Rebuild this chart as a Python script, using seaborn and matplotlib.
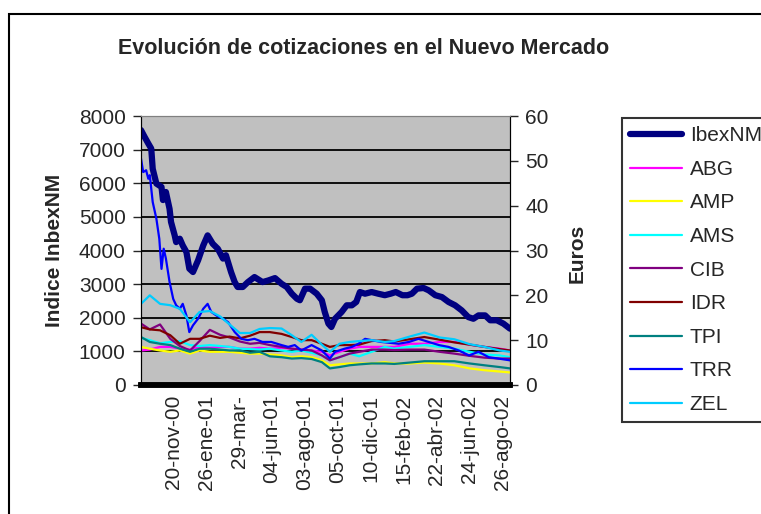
import matplotlib
matplotlib.use("Agg")
import matplotlib.pyplot as plt
import matplotlib.patches as mpatches
import seaborn as sns

# trading-day index of each reading, and the values
ibex_day = [0, 5, 10, 14, 16, 21, 28, 30, 34, 39, 41, 46, 48, 53, 57, 62, 66, 71, 78, 85,
            91, 98, 105, 112, 116, 123, 128, 132, 139, 146, 155, 166, 174, 183, 192, 199,
            206, 213, 217, 224, 231, 240, 247, 251, 256, 260, 265, 274, 281, 288, 294, 299,
            306, 315, 324, 333, 341, 348, 357, 364, 370, 377, 386, 393, 402, 411, 420, 429,
            438, 447, 454, 461, 470, 477, 486, 495, 504]
ibex_val = [7580, 7375, 7180, 7030, 6430, 5990, 5890, 5500, 5740, 5240, 4850, 4450, 4250,
            4350, 4150, 3955, 3460, 3360, 3710, 4150, 4450, 4200, 4050, 3760, 3860, 3360,
            3060, 2915, 2915, 3060, 3210, 3060, 3110, 3180, 3010, 2915, 2715, 2565, 2520,
            2865, 2865, 2715, 2520, 2170, 1825, 1725, 1970, 2170, 2370, 2370, 2470, 2765,
            2715, 2765, 2715, 2670, 2715, 2765, 2670, 2670, 2715, 2865, 2885, 2815, 2670,
            2615, 2470, 2370, 2220, 2020, 1970, 2070, 2070, 1925, 1925, 1825, 1675]

trr_day = [0, 3, 7, 10, 12, 14, 16, 21, 25, 28, 31, 34, 39, 44, 48, 53, 57, 62, 66, 71, 78,
           85, 91, 96, 103, 112, 119, 128, 137, 146, 155, 166, 178, 192, 201, 210, 219, 233,
           247, 258, 265, 278, 288, 297, 306, 315, 328, 352, 366, 379, 393, 407, 420, 434,
           448, 461, 475, 488, 504]
trr_val = [50.5, 47.5, 47.9, 46.0, 46.8, 43.8, 40.8, 37.1, 32.6, 25.9, 30.4, 28.2, 23.0,
           19.2, 17.8, 17.0, 18.1, 15.5, 11.8, 13.3, 14.8, 17.0, 18.1, 16.3, 15.5, 14.8,
           14.0, 11.8, 10.3, 10.0, 10.3, 9.6, 9.6, 8.9, 8.5, 8.9, 7.7, 8.9, 7.7, 5.9, 7.4,
           8.1, 8.5, 9.2, 10.3, 10.0, 9.6, 9.2, 9.6, 10.3, 9.6, 8.9, 8.5, 7.7, 6.6, 7.4,
           6.2, 5.9, 5.5]

# shared reading positions for the other stocks
day = [0, 12, 26, 40, 53, 67, 80, 94, 108, 121, 135, 149, 162, 176, 192, 206, 219, 233,
       247, 258, 271, 285, 298, 315, 333, 346, 367, 387, 408, 428, 449, 469, 490, 504]
abg = [7.7, 7.9, 8.5, 8.5, 8.1, 7.9, 8.5, 8.3, 8.5, 8.5, 8.1, 8.1, 8.3, 8.1, 8.3, 8.1, 7.9,
       7.7, 7.4, 6.6, 7.4, 8.1, 8.5, 8.5, 8.5, 8.5, 9.2, 9.2, 9.6, 9.6, 9.0, 8.5, 8.1, 7.7]
amp = [8.5, 8.1, 7.7, 7.4, 7.7, 7.0, 7.7, 7.4, 7.4, 7.4, 7.2, 7.0, 7.0, 6.8, 6.6, 6.2, 6.4,
       6.2, 5.5, 4.4, 4.6, 4.8, 4.8, 4.8, 5.1, 4.8, 4.8, 5.0, 4.8, 4.4, 3.7, 3.3, 3.0, 2.8]
ams = [10.5, 10.0, 9.3, 9.6, 9.8, 8.9, 8.7, 8.9, 8.7, 8.5, 8.1, 8.0, 7.9, 8.1, 7.7, 7.4,
       7.7, 7.2, 6.6, 5.5, 6.2, 7.0, 6.4, 7.4, 8.5, 8.1, 8.5, 8.9, 8.5, 8.1, 7.4, 6.8, 6.6, 6.2]
cib = [13.7, 12.4, 13.5, 10.3, 8.7, 7.7, 9.8, 12.3, 11.2, 10.6, 9.7, 9.2, 9.4, 8.9, 8.5,
       8.1, 7.9, 7.7, 6.6, 5.5, 6.2, 7.0, 7.4, 7.9, 7.9, 7.8, 7.9, 7.9, 7.4, 7.0, 6.5, 6.1,
       5.9, 5.9]
idr = [12.9, 12.4, 12.2, 11.1, 9.2, 10.3, 10.3, 11.0, 10.5, 10.8, 10.4, 11.0, 11.8, 11.8,
       11.4, 10.7, 10.0, 10.0, 9.2, 8.5, 8.9, 8.9, 9.0, 9.8, 10.0, 9.7, 10.2, 10.7, 10.1, 9.5,
       9.0, 8.5, 8.0, 7.7]
tpi = [10.7, 9.6, 9.2, 8.9, 8.1, 7.4, 8.1, 8.1, 7.9, 7.7, 7.7, 7.2, 7.4, 6.4, 6.2, 5.9,
       6.0, 5.8, 5.1, 3.7, 4.0, 4.4, 4.6, 4.8, 4.8, 4.7, 5.0, 5.3, 5.3, 5.3, 4.8, 4.4, 4.0, 3.7]
zel = [18.1, 20.0, 18.1, 17.8, 17.0, 14.0, 16.3, 16.5, 15.3, 13.5, 11.6, 11.6, 12.5, 12.7,
       12.6, 11.1, 9.6, 11.2, 9.0, 7.4, 9.2, 9.6, 9.8, 10.0, 9.6, 9.8, 10.8, 11.7, 10.6,
       10.2, 9.1, 8.5, 7.7, 7.4]

tick_days = [44, 89, 134, 179, 224, 269, 314, 359, 404, 449, 494]
tick_labels = ["20-nov-00", "26-ene-01", "29-mar-", "04-jun-01", "03-ago-01", "05-oct-01",
               "10-dic-01", "15-feb-02", "22-abr-02", "24-jun-02", "26-ago-02"]

stocks = [("ABG", abg, "#FF00FF"), ("AMP", amp, "#FFFF00"), ("AMS", ams, "#00FFFF"),
          ("CIB", cib, "#800080"), ("IDR", idr, "#800000"), ("TPI", tpi, "#008080"),
          ("TRR", trr_val, "#0000FF"), ("ZEL", zel, "#00CCFF")]

sns.set_style("white")
plt.rcParams["font.family"] = ["Liberation Sans", "DejaVu Sans"]
fs = 15

fig = plt.figure(figsize=(7.61, 5.14), dpi=100)
ax = fig.add_axes([141 / 761, 129 / 514, 369 / 761, 269 / 514])
ax.set_facecolor("#C0C0C0")

sns.lineplot(x=ibex_day, y=ibex_val, ax=ax, color="#000080", linewidth=4.5,
             solid_capstyle="round", legend=False)
ax.set_ylim(0, 8000)
ax.set_yticks(range(0, 8001, 1000))
ax.set_xlim(0, 504)
ax.yaxis.grid(True, color="black", linewidth=1.3)
ax.set_axisbelow(True)

ax2 = ax.twinx()
for name, vals, col in stocks:
    xs = trr_day if name == "TRR" else day
    sns.lineplot(x=xs, y=vals, ax=ax2, color=col, linewidth=1.6, legend=False)
ax2.set_ylim(0, 60)
ax2.set_yticks(range(0, 61, 10))
ax2.grid(False)

ax.set_xticks(tick_days)
ax.set_xticklabels(tick_labels, rotation=90, fontsize=fs)
ax.tick_params(axis="x", length=0, pad=7)
ax.tick_params(axis="y", direction="out", length=6, width=1, labelsize=fs, pad=5, left=True)
ax2.tick_params(axis="y", direction="out", length=6, width=1, labelsize=fs, pad=5, right=True)

for a in (ax, ax2):
    a.spines["top"].set_color("#808080")
    a.spines["left"].set_color("black")
    a.spines["right"].set_color("black")
    a.spines["bottom"].set_color("black")
    a.spines["bottom"].set_linewidth(4)

ax.set_ylabel("")
ax2.set_ylabel("")
fig.text(55 / 761, 1 - 250 / 514, "Indice InbexNM", rotation=90, fontsize=fs,
         fontweight="bold", ha="center", va="center")
fig.text(577 / 761, 1 - 253 / 514, "Euros", rotation=90, fontsize=fs,
         fontweight="bold", ha="center", va="center")
fig.text(364 / 761, 1 - 48 / 514, "Evolución de cotizaciones en el Nuevo Mercado",
         fontsize=15.5, fontweight="bold", ha="center", va="center")

handles = [ax.lines[0]] + list(ax2.lines)
labels = ["IbexNM"] + [s[0] for s in stocks]
leg = fig.legend(handles, labels, loc="upper left", bbox_to_anchor=(622 / 761, 1 - 118 / 514),
                 frameon=True, fancybox=False, fontsize=fs, handlelength=2.5,
                 handletextpad=0.35, labelspacing=0.70, borderpad=0.4, borderaxespad=0)
leg.get_frame().set_edgecolor("black")
leg.get_frame().set_linewidth(1.5)

fig.add_artist(mpatches.Rectangle((9 / 761, -0.1), 1.2, 1.1 - 14 / 514, fill=False,
                                  edgecolor="black", linewidth=1.5,
                                  transform=fig.transFigure))

fig.savefig("out.png", dpi=100)
